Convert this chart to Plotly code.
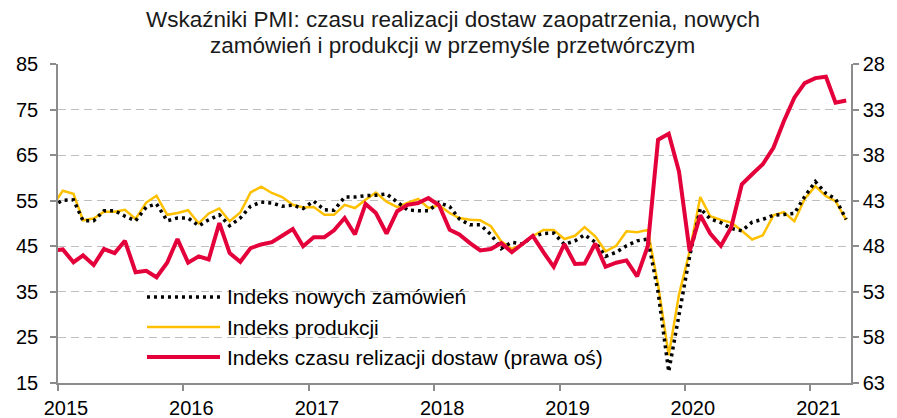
import plotly.graph_objects as go
import pandas as pd

# Monthly dates (mid-month), first point lies just left of the visible range
dates = pd.date_range("2014-12-01", periods=77, freq="MS") + pd.Timedelta(days=14)

new_orders = [53.8,
    55.1, 55.2, 50.6, 50.6, 52.8, 52.8, 51.6, 50.6, 53.6, 54.3, 50.6, 51.2,
    51.2, 49.5, 50.8, 51.9, 49.5, 51.2, 53.8, 54.7, 54.5, 53.8, 54.0, 53.3,
    54.9, 53.0, 52.9, 55.8, 55.8, 56.1, 56.2, 56.5, 54.8, 53.0, 52.8, 52.8,
    54.6, 53.7, 51.0, 49.7, 49.7, 47.6, 44.5, 45.9, 45.5, 47.2, 47.8, 47.9,
    45.4, 46.2, 47.5, 45.9, 42.8, 43.7, 45.1, 46.2, 46.6, 35.0, 17.5, 30.4,
    42.8, 53.3, 51.0, 50.2, 48.9, 48.4, 50.3, 50.9, 51.8, 52.0, 52.2, 55.9,
    59.2, 56.6, 55.4, 50.9]

production = [53.8,
    57.2, 56.5, 50.7, 51.1, 52.6, 52.6, 53.0, 51.0, 54.6, 56.1, 51.9, 52.3,
    52.9, 50.0, 52.2, 53.3, 50.5, 52.4, 56.8, 58.1, 56.7, 55.8, 54.1, 53.5,
    53.6, 51.9, 51.9, 54.1, 53.4, 55.2, 56.8, 54.8, 53.6, 54.5, 55.4, 53.4,
    54.0, 52.3, 51.2, 50.8, 50.7, 49.4, 46.1, 44.4, 45.4, 47.2, 48.6, 48.6,
    46.6, 47.3, 49.2, 47.2, 43.9, 45.1, 48.3, 48.1, 48.6, 36.5, 21.1, 34.4,
    43.9, 55.8, 51.6, 50.8, 50.2, 48.4, 46.5, 47.4, 51.8, 52.5, 50.5, 55.4,
    58.2, 56.0, 54.9, 50.8]

# Supplier delivery times index (right axis, reversed)
delivery = [48.50,
    48.35, 49.75, 49.00, 50.05, 48.30, 48.75, 47.40, 50.85, 50.70, 51.40, 49.80, 47.20,
    49.80, 49.10, 49.45, 45.45, 48.75, 49.70, 48.20, 47.80, 47.55, 46.85, 46.10, 48.00,
    47.00, 47.00, 46.25, 44.90, 46.70, 43.35, 44.35, 46.60, 44.15, 43.45, 43.25, 42.70,
    43.50, 46.20, 46.70, 47.65, 48.45, 48.30, 47.65, 48.65, 47.70, 46.85, 48.65, 50.25,
    47.75, 49.95, 49.90, 47.70, 50.25, 49.80, 49.55, 51.30, 48.00, 36.30, 35.65, 39.80,
    48.55, 44.60, 46.60, 47.95, 45.95, 41.20, 40.10, 39.00, 37.20, 34.30, 31.70, 30.10,
    29.55, 29.40, 32.25, 32.00]

year_ticks = ["2015-01-01", "2016-01-01", "2017-01-01", "2018-01-01",
              "2019-01-01", "2020-01-01", "2021-01-01"]
year_labels = ["2015", "2016", "2017", "2018", "2019", "2020", "2021"]
left_ticks = [15, 25, 35, 45, 55, 65, 75, 85]
right_ticks = [28, 33, 38, 43, 48, 53, 58, 63]

names = ["Indeks nowych zamówień", "Indeks produkcji",
         "Indeks czasu relizacji dostaw (prawa oś)"]

BLACK = "#000000"
YELLOW = "#FFC000"
RED = "#E4003A"
AXIS = "#8C8C8C"
FONT = "Liberation Sans, Arial, sans-serif"
DOT = "3px,4px"
TICK = 20

fig = go.Figure()
fig.add_trace(go.Scatter(x=dates, y=delivery, name=names[2], yaxis="y2",
                         mode="lines", line=dict(color=RED, width=4)))
fig.add_trace(go.Scatter(x=dates, y=production, name=names[1],
                         mode="lines", line=dict(color=YELLOW, width=2.5)))
fig.add_trace(go.Scatter(x=dates, y=new_orders, name=names[0],
                         mode="lines", line=dict(color=BLACK, width=3.5, dash=DOT)))

# Manual legend (long line samples like the original)
leg_rows = [(0.2696, BLACK, 3.5, DOT, names[0]),
            (0.1755, YELLOW, 2.5, "solid", names[1]),
            (0.0815, RED, 4, "solid", names[2])]
shapes = []
annotations = []
for yy, col, w, dsh, txt in leg_rows:
    shapes.append(dict(type="line", xref="paper", yref="paper",
                       x0=0.1122, x1=0.2043, y0=yy, y1=yy,
                       line=dict(color=col, width=w, dash=dsh)))
    annotations.append(dict(xref="paper", yref="paper", x=0.2106, y=yy,
                            xanchor="left", yanchor="middle", showarrow=False,
                            text=txt, font=dict(family=FONT, size=21, color="#000000")))

# Title as two centred lines
annotations.append(dict(xref="paper", yref="paper", x=0.4975, y=1 + (64 - 20) / 319,
                        xanchor="center", yanchor="middle", showarrow=False,
                        text="Wskaźniki PMI: czasu realizacji dostaw zaopatrzenia, nowych",
                        font=dict(family=FONT, size=22.5, color="#1a1a1a")))
annotations.append(dict(xref="paper", yref="paper", x=0.4975, y=1 + (64 - 46) / 319,
                        xanchor="center", yanchor="middle", showarrow=False,
                        text="zamówień i produkcji w przemyśle przetwórczym",
                        font=dict(family=FONT, size=22.5, color="#1a1a1a")))

fig.update_layout(
    width=897, height=418,
    margin=dict(l=50, r=54, t=56, b=43, autoexpand=False),
    paper_bgcolor="white", plot_bgcolor="white",
    showlegend=False,
    font=dict(family=FONT, size=TICK, color="#000000"),
    xaxis=dict(type="date", range=["2015-01-01", "2021-04-29"],
               tickvals=year_ticks, ticktext=year_labels, automargin=False,
               showgrid=False, zeroline=False, ticklabelshift=8,
               showline=True, linecolor=AXIS, linewidth=1.5,
               ticks="outside", ticklen=6, tickcolor=AXIS, tickwidth=1.5,
               tickfont=dict(family=FONT, size=TICK, color="#000000")),
    yaxis=dict(range=[15, 85], tickvals=left_ticks, automargin=False,
               showgrid=True, gridcolor="#BFBFBF", gridwidth=1, griddash="8px,5px",
               zeroline=False, showline=True, linecolor=AXIS, linewidth=1.5,
               ticks="outside", ticklen=6, tickcolor=AXIS, tickwidth=1.5,
               ticklabelstandoff=8,
               tickfont=dict(family=FONT, size=TICK, color="#000000")),
    yaxis2=dict(range=[63, 28], tickvals=right_ticks, overlaying="y", side="right",
                automargin=False,
                showgrid=False, zeroline=False, showline=True, linecolor=AXIS, linewidth=1.5,
                ticks="outside", ticklen=6, tickcolor=AXIS, tickwidth=1.5,
                tickfont=dict(family=FONT, size=TICK, color="#000000")),
    shapes=shapes, annotations=annotations,
)

fig.write_html("out.html")
